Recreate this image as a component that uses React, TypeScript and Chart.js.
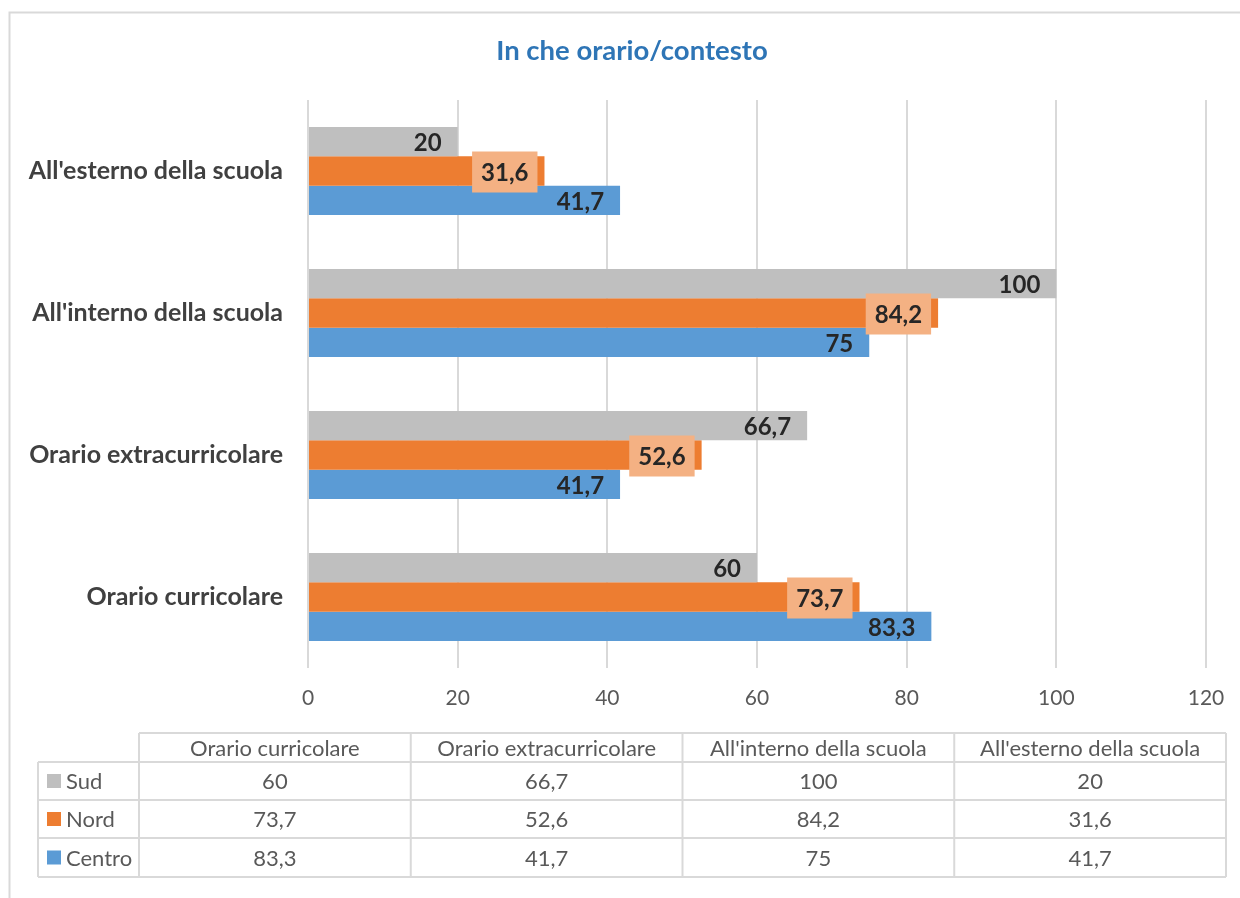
import React, { useEffect, useRef } from "react";
import { Chart, registerables } from "chart.js";

Chart.register(...registerables);

const titleText = "In che orario/contesto";
const categories = [
  "Orario curricolare",
  "Orario extracurricolare",
  "All'interno della scuola",
  "All'esterno della scuola",
];
const seriesNames = ["Sud", "Nord", "Centro"];
const sudValues = [60, 66.7, 100, 20];
const nordValues = [73.7, 52.6, 84.2, 31.6];
const centroValues = [83.3, 41.7, 75, 41.7];
const seriesColors = ["#BFBFBF", "#ED7D31", "#5B9BD5"];
const xMin = 0;
const xMax = 120;
const xStep = 20;

const W = 1240;
const H = 898;
const FONT = "Lato, 'Noto Sans', sans-serif";
const GRID = "#D9D9D9";

const fmt = (v: number) => String(v).replace(".", ",");

const decorPlugin = {
  id: "decor",
  beforeDraw(chart: any) {
    const ctx = chart.ctx;
    ctx.save();
    ctx.fillStyle = "#FFFFFF";
    ctx.fillRect(0, 0, W, H);
    // outer frame (left and top edges visible)
    ctx.strokeStyle = GRID;
    ctx.lineWidth = 2;
    ctx.beginPath();
    ctx.moveTo(9.5, H + 5);
    ctx.lineTo(9.5, 12.5);
    ctx.lineTo(W + 5, 12.5);
    ctx.stroke();
    // title
    ctx.fillStyle = "#2E75B6";
    ctx.font = `bold 27.5px ${FONT}`;
    ctx.textAlign = "center";
    ctx.textBaseline = "middle";
    ctx.fillText(titleText, 632, 51);
    ctx.restore();
  },
  afterDatasetsDraw(chart: any) {
    const ctx = chart.ctx;
    ctx.save();
    ctx.font = `bold 24px ${FONT}`;
    ctx.textBaseline = "middle";
    chart.data.datasets.forEach((ds: any, di: number) => {
      const meta = chart.getDatasetMeta(di);
      meta.data.forEach((el: any, i: number) => {
        const txt = fmt(ds.data[i]);
        const tw = ctx.measureText(txt).width;
        const textRight = el.x - 16;
        if (di === 1) {
          const bw = tw + 18;
          const bh = 41;
          ctx.fillStyle = "#F4B183";
          ctx.fillRect(el.x - 7 - bw, el.y - bh / 2 + 1, bw, bh);
        }
        ctx.fillStyle = "#262626";
        ctx.textAlign = "right";
        ctx.fillText(txt, textRight, el.y + 2);
      });
    });
    ctx.restore();
  },
  afterDraw(chart: any) {
    const ctx = chart.ctx;
    const left = 38;
    const firstColRight = 139;
    const right = 1226;
    const rows = [733, 762, 800, 838, 877];
    const colW = (right - firstColRight) / categories.length;
    const colX = categories.map((_, i) => firstColRight + colW * i);
    colX.push(right);
    ctx.save();
    ctx.strokeStyle = GRID;
    ctx.lineWidth = 2;
    ctx.beginPath();
    ctx.moveTo(firstColRight, rows[0]);
    ctx.lineTo(right, rows[0]);
    for (let r = 1; r < rows.length; r++) {
      ctx.moveTo(left, rows[r]);
      ctx.lineTo(right, rows[r]);
    }
    ctx.moveTo(left, rows[1]);
    ctx.lineTo(left, rows[rows.length - 1]);
    colX.forEach((x) => {
      ctx.moveTo(x, rows[0]);
      ctx.lineTo(x, rows[rows.length - 1]);
    });
    ctx.stroke();

    ctx.fillStyle = "#595959";
    ctx.font = `22px ${FONT}`;
    ctx.textBaseline = "middle";
    ctx.textAlign = "center";
    categories.forEach((c, i) => {
      ctx.fillText(c, colX[i] + colW / 2, (rows[0] + rows[1]) / 2 + 1);
    });
    chart.data.datasets.forEach((ds: any, di: number) => {
      const cy = (rows[di + 1] + rows[di + 2]) / 2;
      ctx.fillStyle = seriesColors[di];
      ctx.fillRect(47, cy - 7, 14, 14);
      ctx.fillStyle = "#595959";
      ctx.textAlign = "left";
      ctx.fillText(ds.label, 66, cy + 1);
      ctx.textAlign = "center";
      ds.data.forEach((v: number, i: number) => {
        ctx.fillText(fmt(v), colX[i] + colW / 2, cy + 1);
      });
    });
    ctx.restore();
  },
};

export default function App() {
  const ref = useRef<HTMLCanvasElement | null>(null);
  useEffect(() => {
    if (!ref.current) return;
    const chart = new Chart(ref.current, {
      type: "bar",
      data: {
        labels: categories,
        datasets: [sudValues, nordValues, centroValues].map((d, i) => ({
          label: seriesNames[i],
          data: d,
          backgroundColor: seriesColors[i],
          borderWidth: 0,
          barPercentage: 1,
          categoryPercentage: 0.62,
        })),
      },
      options: {
        indexAxis: "y",
        responsive: false,
        animation: false,
        layout: { padding: { top: 100, right: 34, bottom: 180, left: 8 } },
        plugins: {
          legend: { display: false },
          tooltip: { enabled: false },
          title: { display: false },
        },
        scales: {
          x: {
            min: xMin,
            max: xMax,
            ticks: {
              stepSize: xStep,
              font: { family: FONT, size: 21 },
              color: "#595959",
              padding: 18,
            },
            grid: { color: GRID, lineWidth: 2, drawTicks: false },
            border: { display: false },
            afterFit: (s: any) => {
              s.height = 50;
              s.paddingLeft = 0;
              s.paddingRight = 0;
            },
          },
          y: {
            reverse: true,
            ticks: {
              font: { family: FONT, size: 25, weight: "bold" },
              color: "#404040",
              padding: 25,
            },
            grid: { display: false, drawTicks: false },
            border: { display: false },
            afterFit: (s: any) => {
              s.width = 300;
              s.paddingTop = 0;
              s.paddingBottom = 0;
            },
          },
        },
      } as any,
      plugins: [decorPlugin],
    });
    return () => chart.destroy();
  }, []);
  return (
    <div style={{ position: "absolute", left: 0, top: 0, width: W, height: H, overflow: "hidden" }}>
      <canvas ref={ref} width={W} height={H} style={{ display: "block" }} />
    </div>
  );
}
